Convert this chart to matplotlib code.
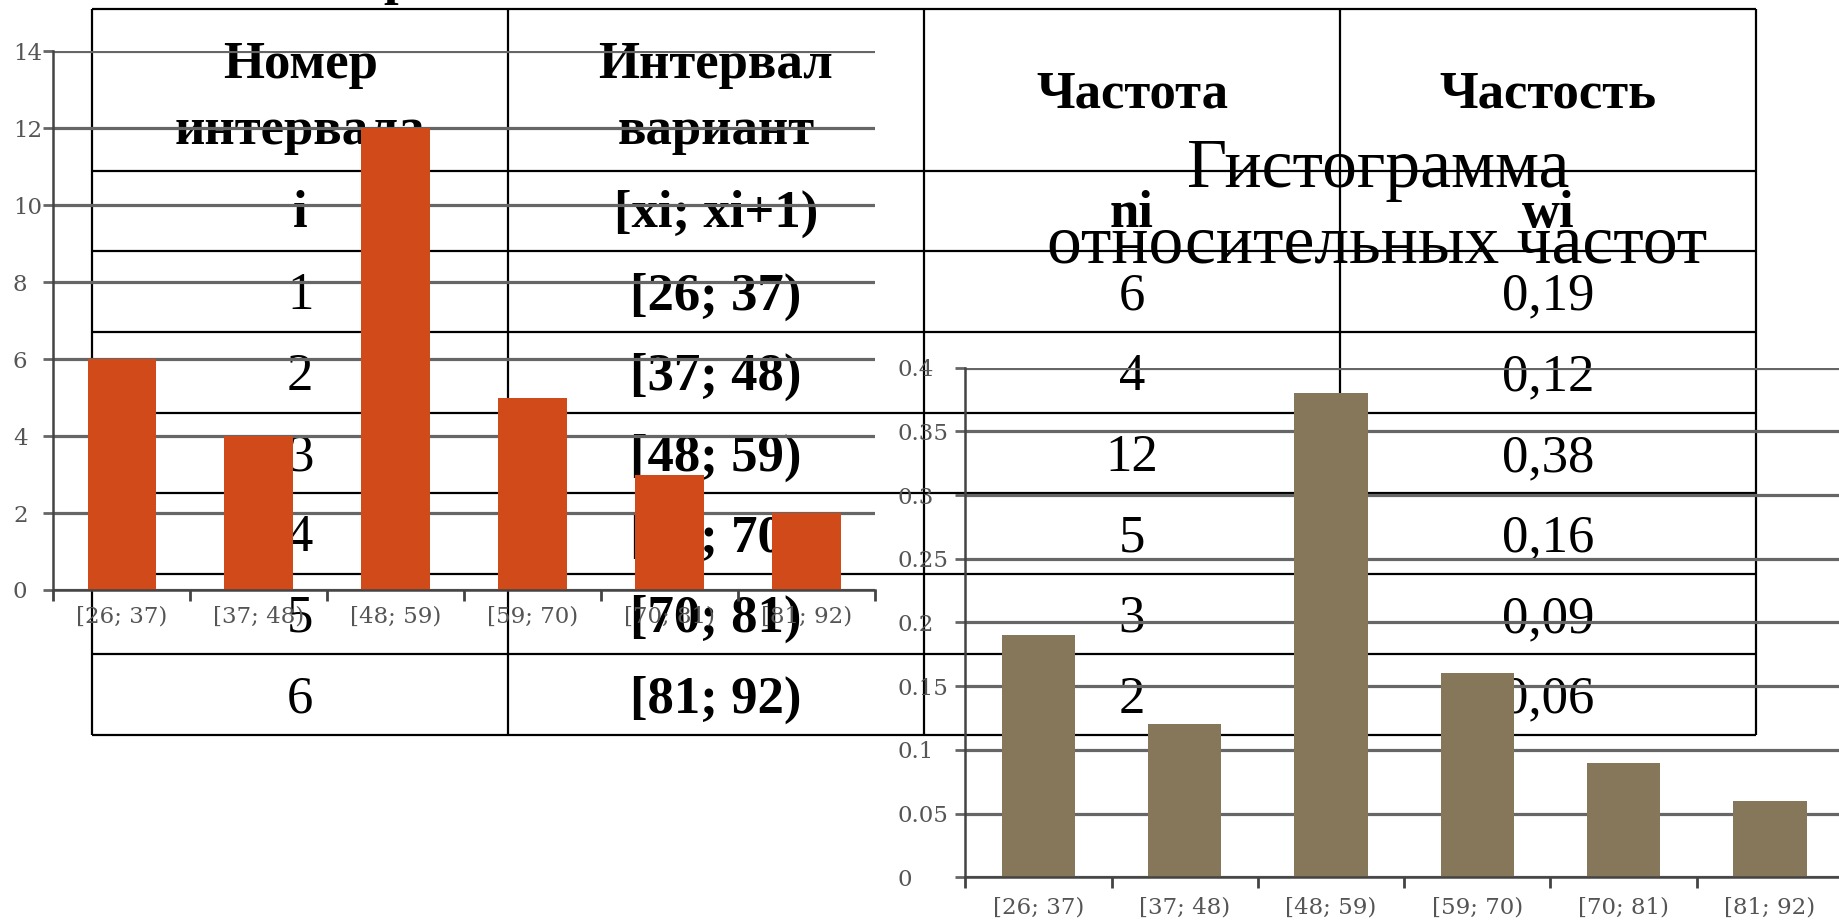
import numpy as np
import matplotlib
matplotlib.use("Agg")
import matplotlib.pyplot as plt
from matplotlib.ticker import FixedLocator, FixedFormatter, NullFormatter

# ---- data -------------------------------------------------------------
intervals = ["[26; 37)", "[37; 48)", "[48; 59)", "[59; 70)", "[70; 81)", "[81; 92)"]
row_numbers = ["1", "2", "3", "4", "5", "6"]
freq = [6, 4, 12, 5, 3, 2]
rel_freq = [0.19, 0.12, 0.38, 0.16, 0.09, 0.06]

header_titles = ["Номер\nинтервала", "Интервал\nвариант", "Частота", "Частость"]
header_symbols = ["i", "[xi; xi+1)", "ni", "wi"]

freq_yticks = [0, 2, 4, 6, 8, 10, 12, 14]
rel_yticks = [0, 0.05, 0.1, 0.15, 0.2, 0.25, 0.3, 0.35, 0.4]
rel_ytick_labels = ["0", "0.05", "0.1", "0.15", "0.2", "0.25", "0.3", "0.35", "0.4"]

chart_title = "Гистограмма\nотносительных частот"

# ---- figure -----------------------------------------------------------
W, H, DPI = 1839, 922, 100
fig = plt.figure(figsize=(W / DPI, H / DPI), dpi=DPI)
fig.patch.set_facecolor("white")

PX = 72.0 / DPI  # points per pixel
SERIF = ["Liberation Serif", "DejaVu Serif"]
TICKFONT = ["DejaVu Serif"]

# pixel-space canvas for the table and the title
bg = fig.add_axes([0, 0, 1, 1], zorder=0)
bg.set_xlim(0, W)
bg.set_ylim(H, 0)
bg.axis("off")

col_edges = [92.3, 508, 924, 1340, 1756]
row_edges = [9, 170.7, 251, 331.7, 412.5, 493.3, 573.5, 654.3, 735]
col_centers = [(a + b) / 2 for a, b in zip(col_edges[:-1], col_edges[1:])]

bg.hlines(row_edges, col_edges[0], col_edges[-1], color="black", lw=1.6)
bg.vlines(col_edges, row_edges[0], row_edges[-1], color="black", lw=1.6)

TABLE_FS = 38
# header row
for j, txt in enumerate(header_titles):
    lines = txt.split("\n")
    if len(lines) == 2:
        bg.text(col_centers[j], 78, lines[0], ha="center", va="baseline",
                fontsize=TABLE_FS, family=SERIF, weight="bold")
        bg.text(col_centers[j], 144, lines[1], ha="center", va="baseline",
                fontsize=TABLE_FS, family=SERIF, weight="bold")
    else:
        bg.text(col_centers[j], 108, txt, ha="center", va="baseline",
                fontsize=TABLE_FS, family=SERIF, weight="bold")

# symbol row
for j, txt in enumerate(header_symbols):
    bg.text(col_centers[j], 227, txt, ha="center", va="baseline",
            fontsize=TABLE_FS, family=SERIF, weight="bold")

# data rows
for i in range(len(intervals)):
    yc = (row_edges[i + 2] + row_edges[i + 3]) / 2
    yb = yc + 18
    bg.text(col_centers[0], yb, row_numbers[i], ha="center", va="baseline",
            fontsize=TABLE_FS, family=SERIF)
    bg.text(col_centers[1], yb, intervals[i], ha="center", va="baseline",
            fontsize=TABLE_FS, family=SERIF, weight="bold")
    bg.text(col_centers[2], yb, str(freq[i]), ha="center", va="baseline",
            fontsize=TABLE_FS, family=SERIF)
    bg.text(col_centers[3], yb, f"{rel_freq[i]:.2f}".replace(".", ","),
            ha="center", va="baseline", fontsize=TABLE_FS, family=SERIF)

# chart title
t1, t2 = chart_title.split("\n")
bg.text(1378, 187, t1, ha="center", va="baseline", fontsize=50, family=SERIF)
bg.text(1377, 262, t2, ha="center", va="baseline", fontsize=50, family=SERIF)

# cut-off heading fragment at the very top
bg.text(398, 5, "р", ha="center", va="bottom", fontsize=38, family=SERIF,
        weight="bold")


def px_axes(x0, x1, y_bottom, y_top, z):
    ax = fig.add_axes([x0 / W, 1 - y_bottom / H, (x1 - x0) / W,
                       (y_bottom - y_top) / H], zorder=z)
    ax.patch.set_alpha(0)
    return ax


GRID = "#666666"
TICKLAB = "#555555"
TICK_FS = 16.5
centers = np.arange(len(intervals)) + 0.5


def style_chart(ax, values, color, yticks, ylabels, ymax, ylab_left_px, xlab_pad_px):
    ax.bar(centers, values, width=0.5, color=color, zorder=2)
    ax.set_xlim(0, len(intervals))
    ax.set_ylim(0, ymax)
    for s in ("top", "right"):
        ax.spines[s].set_visible(False)
    for s in ("left", "bottom"):
        ax.spines[s].set_color("#444444")
        ax.spines[s].set_linewidth(1.8)
        ax.spines[s].set_zorder(3)
    ax.set_yticks(yticks)
    ax.yaxis.set_major_formatter(FixedFormatter(ylabels))
    ax.yaxis.grid(True, color=GRID, lw=2.3, zorder=1)
    ax.set_axisbelow(True)
    ticklen = 10 * PX
    ax.tick_params(axis="y", length=ticklen, width=2.0, color=GRID,
                   labelsize=TICK_FS, labelcolor=TICKLAB,
                   pad=ylab_left_px * PX - ticklen)
    ax.xaxis.set_major_locator(FixedLocator(range(len(intervals) + 1)))
    ax.xaxis.set_major_formatter(NullFormatter())
    ax.xaxis.set_minor_locator(FixedLocator(centers))
    ax.xaxis.set_minor_formatter(FixedFormatter(intervals))
    ax.tick_params(axis="x", which="major", length=11 * PX, width=2.0,
                   color="#444444")
    ax.tick_params(axis="x", which="minor", length=0, labelsize=TICK_FS,
                   labelcolor=TICKLAB, pad=xlab_pad_px * PX)
    for lab in ax.get_yticklabels() + ax.get_xticklabels(minor=True):
        lab.set_fontfamily(TICKFONT)
    for lab in ax.get_yticklabels():
        lab.set_horizontalalignment("left")


# frequency histogram
axL = px_axes(53.3, 875, 590, 51.3, 2)
style_chart(axL, freq, "#D14A19", freq_yticks, [str(v) for v in freq_yticks],
            14, 53.3 - 13, 16)

# relative-frequency histogram
axR = px_axes(965.3, 965.3 + 6 * 146.3, 877.3, 367.7, 2)
style_chart(axR, rel_freq, "#86775A", rel_yticks, rel_ytick_labels,
            0.4, 965.3 - 898, 19)

fig.savefig("out.png", dpi=DPI, facecolor="white")
